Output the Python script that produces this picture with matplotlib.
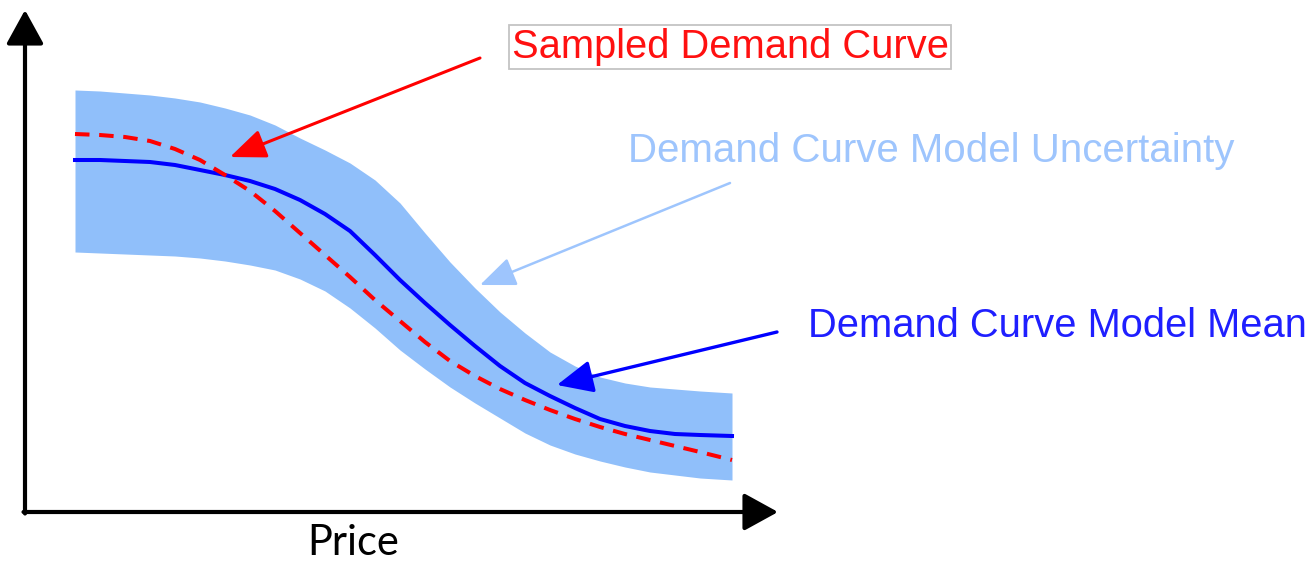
import matplotlib
matplotlib.use("Agg")
import matplotlib.pyplot as plt
import numpy as np

# ---- data (price, demand units; 1 unit = 50 px in the reference) ----
price = [1.0, 1.5, 2.0, 2.5, 3.0, 3.5, 4.0, 4.5, 5.0, 5.5, 6.0, 6.5, 7.0, 7.5,
         8.0, 8.5, 9.0, 9.5, 10.0, 10.5, 11.0, 11.5, 12.0, 12.5, 13.0, 13.5, 14.14]
band_upper = [8.44, 8.42, 8.38, 8.34, 8.28, 8.20, 8.08, 7.94, 7.74, 7.48, 7.24, 6.98, 6.64, 6.18,
              5.58, 5.00, 4.48, 4.00, 3.58, 3.20, 2.92, 2.70, 2.58, 2.50, 2.46, 2.42, 2.38]
band_lower = [5.20, 5.18, 5.16, 5.14, 5.12, 5.08, 5.02, 4.94, 4.84, 4.66, 4.42, 4.08, 3.68, 3.24,
              2.86, 2.50, 2.18, 1.88, 1.58, 1.34, 1.16, 1.02, 0.90, 0.80, 0.74, 0.68, 0.64]
model_mean = [7.04, 7.04, 7.02, 7.00, 6.94, 6.84, 6.74, 6.62, 6.46, 6.24, 5.96, 5.62, 5.14, 4.64,
              4.18, 3.74, 3.32, 2.92, 2.58, 2.32, 2.08, 1.86, 1.72, 1.62, 1.56, 1.54, 1.52]
sampled = [7.56, 7.54, 7.50, 7.42, 7.26, 7.04, 6.74, 6.42, 6.02, 5.58, 5.14, 4.70, 4.24, 3.82,
           3.40, 3.02, 2.72, 2.46, 2.24, 2.04, 1.86, 1.70, 1.56, 1.44, 1.32, 1.20, 1.04]

label_sampled = "Sampled Demand Curve"
label_uncert = "Demand Curve Model Uncertainty"
label_mean = "Demand Curve Model Mean"
xlabel = "Price"

W, H = 1313, 561
fig = plt.figure(figsize=(W / 100, H / 100), dpi=100)
XMAX, YMAX = 15.5, 10.3
ax = fig.add_axes([25 / W, (H - 512) / H, XMAX * 50 / W, YMAX * 50 / H])
ax.set_xlim(0, XMAX)
ax.set_ylim(0, YMAX)
ax.axis("off")

band_col = "#90bffa"
ax.fill_between(price, band_lower, band_upper, color=band_col, lw=0, zorder=1)
ax.plot(price, model_mean, color="#0000ff", lw=2.9, zorder=3, solid_joinstyle="round")
ax.plot(price, sampled, color="#ff0000", lw=2.9, ls=(0, (3.6, 2.4)), zorder=4)

# axes arrows
axis_arrow = dict(arrowstyle="-|>,head_length=1.0,head_width=0.55", color="black",
                  lw=3, mutation_scale=21, shrinkA=0, shrinkB=0)
ax.annotate("", xy=(0, 10.04), xytext=(0, -0.03), arrowprops=axis_arrow, annotation_clip=False)
ax.annotate("", xy=(15.06, 0), xytext=(-0.03, 0), arrowprops=axis_arrow, annotation_clip=False)

# annotation arrows
def arr(color, lw, hw=0.45):
    return dict(arrowstyle=f"-|>,head_length=1.1,head_width={hw}", color=color, lw=lw,
                mutation_scale=20, shrinkA=0, shrinkB=0)

ax.annotate("", xy=(4.1, 7.1), xytext=(9.1, 9.08), arrowprops=arr("#ff0000", 2.2), annotation_clip=False)
ax.annotate("", xy=(9.1, 4.54), xytext=(14.1, 6.58), arrowprops=arr("#9ec5fd", 1.8), annotation_clip=False)
ax.annotate("", xy=(10.64, 2.54), xytext=(15.04, 3.6), arrowprops=arr("#0000ff", 2.4, 0.5), annotation_clip=False)

font = "Liberation Sans"
ax.text(14.1, 9.08, label_sampled, color="#ff1010", fontsize=28.7, family=font,
        ha="center", va="baseline",
        bbox=dict(boxstyle="square,pad=0.07", fc="white", ec="#c4c4c4", lw=1.3))
ax.text(12.06, 7.0, label_uncert, color="#9ec5fd", fontsize=29, family=font,
        ha="left", va="baseline")
ax.text(15.66, 3.5, label_mean, color="#1f1fff", fontsize=28.7, family=font,
        ha="left", va="baseline")
ax.text(6.56, -0.86, xlabel, color="black", fontsize=30, family="Lato",
        ha="center", va="baseline")

fig.savefig("out.png", dpi=100)
